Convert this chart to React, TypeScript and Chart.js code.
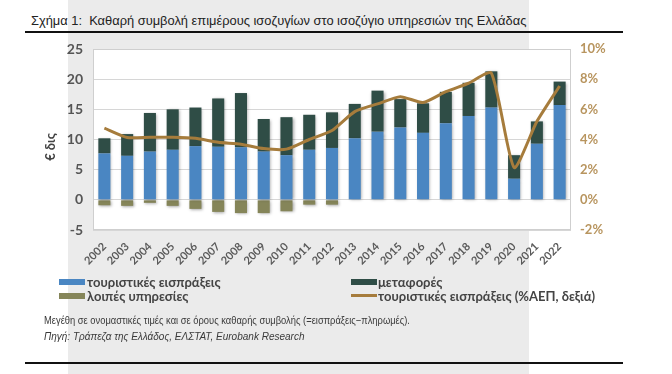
import React, { useEffect, useRef } from 'react';
import { Chart, registerables } from 'chart.js';

Chart.register(...registerables);

const years = ['2002', '2003', '2004', '2005', '2006', '2007', '2008', '2009', '2010', '2011', '2012', '2013', '2014', '2015', '2016', '2017', '2018', '2019', '2020', '2021', '2022'];
const tourism = [7.7, 7.3, 8.0, 8.3, 8.9, 8.8, 8.7, 8.0, 7.4, 8.3, 8.6, 10.2, 11.3, 12.0, 11.1, 12.7, 13.9, 15.3, 3.5, 9.3, 15.7];
const transport = [2.5, 3.6, 6.4, 6.7, 6.4, 8.0, 9.0, 5.4, 6.3, 5.8, 5.9, 5.7, 6.8, 4.7, 4.9, 5.2, 5.5, 6.0, 3.9, 3.7, 3.9];
const otherServices = [-0.9, -1.0, -0.5, -1.0, -1.5, -2.0, -2.2, -2.2, -1.9, -0.8, -0.8, 0, 0, 0, 0, 0, 0, 0, 0, 0, 0];
const tourismGdp = [4.75, 4.13, 4.15, 4.15, 4.08, 3.82, 3.69, 3.4, 3.36, 4.0, 4.6, 5.85, 6.36, 6.84, 6.45, 7.17, 7.73, 8.4, 2.14, 5.19, 7.55];

const labelFont = 'Lato, "DejaVu Sans", sans-serif';
const COL_BLUE = '#4a86c2';
const COL_GREEN = '#2f4d46';
const COL_OLIVE = '#858559';
const COL_LINE = '#a67c3c';

const areaPlugin = {
  id: 'areaPlugin',
  beforeDraw(chart: any) {
    const { ctx, chartArea } = chart;
    ctx.save();
    ctx.fillStyle = '#ffffff';
    ctx.fillRect(chartArea.left, chartArea.top, chartArea.right - chartArea.left, chartArea.bottom - chartArea.top);
    ctx.restore();
  },
  beforeDatasetsDraw(chart: any) {
    const { ctx, chartArea } = chart;
    ctx.save();
    ctx.strokeStyle = '#cfcfcf';
    ctx.lineWidth = 1;
    ctx.strokeRect(chartArea.left + 0.5, chartArea.top + 0.5, chartArea.right - chartArea.left - 1, chartArea.bottom - chartArea.top - 1);
    ctx.restore();
  },
  beforeDatasetDraw(chart: any, args: any) {
    const ds = chart.data.datasets[args.index];
    const ctx = chart.ctx;
    ctx.save();
    if (ds.type !== 'line') {
      ctx.shadowColor = 'rgba(0,0,0,0.35)';
      ctx.shadowBlur = 3;
      ctx.shadowOffsetX = 1;
      ctx.shadowOffsetY = 1;
    }
  },
  afterDatasetDraw(chart: any) {
    chart.ctx.restore();
  },
};

export default function App() {
  const ref = useRef<HTMLCanvasElement>(null);

  useEffect(() => {
    const chart = new Chart(ref.current as HTMLCanvasElement, {
      type: 'bar',
      data: {
        labels: years,
        datasets: [
          {
            type: 'line',
            label: 'τουριστικές εισπράξεις (%ΑΕΠ, δεξιά)',
            data: tourismGdp,
            yAxisID: 'y1',
            borderColor: COL_LINE,
            borderWidth: 3,
            pointRadius: 0,
            tension: 0.2,
            order: 0,
          } as any,
          {
            label: 'τουριστικές εισπράξεις',
            data: tourism,
            backgroundColor: COL_BLUE,
            yAxisID: 'y',
            stack: 's',
            order: 1,
            barPercentage: 0.53,
            categoryPercentage: 1,
          },
          {
            label: 'μεταφορές',
            data: transport,
            backgroundColor: COL_GREEN,
            yAxisID: 'y',
            stack: 's',
            order: 1,
            barPercentage: 0.53,
            categoryPercentage: 1,
          },
          {
            label: 'λοιπές υπηρεσίες',
            data: otherServices,
            backgroundColor: COL_OLIVE,
            yAxisID: 'y',
            stack: 's',
            order: 1,
            barPercentage: 0.53,
            categoryPercentage: 1,
          },
        ],
      },
      options: {
        animation: false,
        responsive: false,
        maintainAspectRatio: false,
        layout: { padding: { top: 49, left: 0, right: 0, bottom: 0 } },
        plugins: { legend: { display: false }, tooltip: { enabled: false } },
        scales: {
          x: {
            stacked: true,
            grid: { display: false },
            border: { display: false },
            ticks: {
              minRotation: 45,
              maxRotation: 45,
              autoSkip: false,
              color: '#5a5a5a',
              padding: 2,
              font: { family: labelFont, size: 11, weight: 'bold' },
            },
            afterFit: (s: any) => { s.height = 40; },
          },
          y: {
            stacked: true,
            min: -5,
            max: 25,
            position: 'left',
            grid: { color: '#d6d6d6', lineWidth: 1, drawTicks: false },
            border: { display: false },
            ticks: {
              stepSize: 5,
              color: '#555555',
              padding: 10,
              font: { family: labelFont, size: 14, weight: 'bold' },
            },
            afterFit: (s: any) => { s.width = 93; },
          },
          y1: {
            min: -2,
            max: 10,
            position: 'right',
            grid: { display: false, drawTicks: false },
            border: { display: false },
            ticks: {
              stepSize: 2,
              color: '#b8955f',
              padding: 9,
              font: { family: labelFont, size: 13, weight: 'bold' },
              callback: (v: any) => v + '%',
            },
            afterFit: (s: any) => { s.width = 101; },
          },
        },
      },
      plugins: [areaPlugin],
    });
    return () => chart.destroy();
  }, []);

  const legendText: React.CSSProperties = {
    position: 'absolute',
    fontFamily: labelFont,
    fontWeight: 700,
    fontSize: 13,
    color: '#444444',
    lineHeight: '14px',
    whiteSpace: 'nowrap',
  };
  const swatch = (left: number, top: number, color: string, h: number): React.CSSProperties => ({
    position: 'absolute', left, top, width: 26, height: h, background: color,
  });
  const noteStyle: React.CSSProperties = {
    position: 'absolute',
    left: 44,
    fontFamily: '"Liberation Sans", Arial, sans-serif',
    fontSize: 11,
    color: '#3a3a3a',
    whiteSpace: 'nowrap',
    transformOrigin: 'left center',
  };

  return (
    <div style={{ position: 'absolute', left: 0, top: 0, width: 672, height: 374, background: '#ffffff', overflow: 'hidden' }}>
      <div style={{ position: 'absolute', left: 68, top: 0, width: 461, height: 374, background: '#ebebeb' }} />
      <div style={{ position: 'absolute', left: 31, top: 13, fontFamily: '"Liberation Sans", Arial, sans-serif', fontSize: 13, color: '#222', whiteSpace: 'nowrap', transform: 'scaleX(0.99)', transformOrigin: 'left center' }}>
        Σχήμα 1:&nbsp; Καθαρή συμβολή επιμέρους ισοζυγίων στο ισοζύγιο υπηρεσιών της Ελλάδας
      </div>
      <div style={{ position: 'absolute', left: 25, top: 31, width: 598, height: 1.5, background: '#111' }} />
      <canvas ref={ref} width={672} height={270} style={{ position: 'absolute', left: 0, top: 0, width: 672, height: 270 }} />
      <div style={{ position: 'absolute', left: 50, top: 147, transform: 'translate(-50%, -50%) rotate(-90deg)', fontFamily: labelFont, fontWeight: 700, fontSize: 13, color: '#444', whiteSpace: 'nowrap' }}>
        € δις
      </div>
      <div style={swatch(59, 279, COL_BLUE, 6)} />
      <div style={{ ...legendText, left: 87, top: 275 }}>τουριστικές εισπράξεις</div>
      <div style={swatch(59, 293, COL_OLIVE, 6)} />
      <div style={{ ...legendText, left: 87, top: 289 }}>λοιπές υπηρεσίες</div>
      <div style={swatch(351, 279, COL_GREEN, 6)} />
      <div style={{ ...legendText, left: 378, top: 275 }}>μεταφορές</div>
      <div style={swatch(351, 294, COL_LINE, 3)} />
      <div style={{ ...legendText, left: 378, top: 289 }}>τουριστικές εισπράξεις (%ΑΕΠ, δεξιά)</div>
      <div style={{ ...noteStyle, top: 314, transform: 'scaleX(0.85)' }}>
        Μεγέθη σε ονομαστικές τιμές και σε όρους καθαρής συμβολής (=εισπράξεις−πληρωμές).
      </div>
      <div style={{ ...noteStyle, top: 330, fontStyle: 'italic', transform: 'scaleX(0.91)' }}>
        Πηγή: Τράπεζα της Ελλάδος, ΕΛΣΤΑΤ, Eurobank Research
      </div>
      <div style={{ position: 'absolute', left: 25, top: 362, width: 598, height: 1.5, background: '#111' }} />
    </div>
  );
}
